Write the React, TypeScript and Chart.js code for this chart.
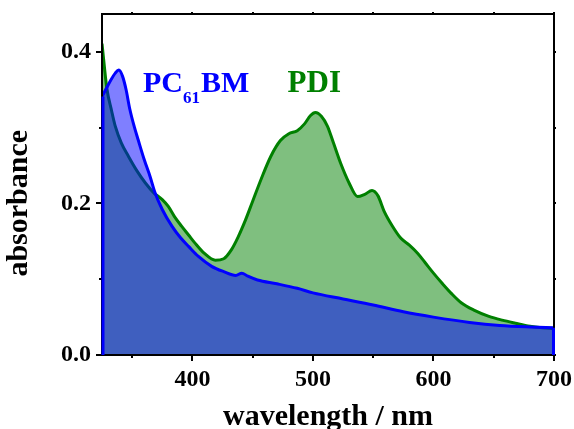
import { useEffect, useRef } from "react";
import { Chart, registerables } from "chart.js";

Chart.register(...registerables);

// PDI absorption spectrum (wavelength in nm, absorbance)
const pdiWavelengths = [
  325, 329, 333, 336, 341, 347, 354, 361, 368, 375, 380, 385, 391, 397, 402, 410, 419, 426, 432,
  438, 444, 450, 457, 465, 473, 480, 487, 493, 498, 502, 507, 512, 517, 523, 530, 537, 543, 549,
  554, 559, 566, 573, 580, 587, 593, 600, 607, 615, 623, 634, 646, 657, 668, 680, 690, 700,
];
const pdiAbsorbance = [
  0.411, 0.352, 0.322, 0.302, 0.28, 0.262, 0.243, 0.227, 0.214, 0.205, 0.196, 0.183, 0.17, 0.158,
  0.148, 0.134, 0.125, 0.127, 0.138, 0.156, 0.178, 0.203, 0.232, 0.262, 0.283, 0.292, 0.296, 0.305,
  0.316, 0.32, 0.315, 0.302, 0.28, 0.253, 0.227, 0.209, 0.212, 0.217, 0.21, 0.19, 0.17, 0.154,
  0.145, 0.134, 0.122, 0.108, 0.095, 0.081, 0.069, 0.059, 0.051, 0.046, 0.042, 0.038, 0.036, 0.035,
];

// PC61BM absorption spectrum
const pcbmWavelengths = [
  325, 328, 332, 336, 339, 342, 345, 348, 352, 355, 360, 365, 369, 375, 383, 390, 397, 405, 416,
  426, 436, 441, 446, 454, 470, 487, 500, 525, 550, 575, 600, 630, 655, 680, 700,
];
const pcbmAbsorbance = [
  0.341, 0.35, 0.362, 0.372, 0.376, 0.368, 0.35, 0.325, 0.3, 0.284, 0.258, 0.235, 0.214, 0.192,
  0.17, 0.155, 0.143, 0.13, 0.117, 0.11, 0.105, 0.108, 0.104, 0.099, 0.094, 0.088, 0.082, 0.074,
  0.066, 0.057, 0.05, 0.043, 0.039, 0.037, 0.036,
];

const xTickValues = [350, 400, 450, 500, 550, 600, 650, 700];
const xLabelValues = [400, 500, 600, 700];
const yTickValues = [0, 0.1, 0.2, 0.3, 0.4];
const yLabelValues = [0, 0.2, 0.4];

const seriesNames = { pcbmMain: "PC", pcbmSub: "61", pcbmEnd: "BM", pdi: "PDI" };
const labelAnchor = { pcbmX: 359, pdiX: 479, y: 0.347 };

const FONT = "'Liberation Serif', 'DejaVu Serif', serif";
const BLUE = "#0000ff";
const GREEN = "#008000";

const decorate = {
  id: "decorate",
  afterDraw(chart: any) {
    const { ctx, chartArea: a, scales } = chart;
    const x = scales.x;
    const y = scales.y;
    ctx.save();
    // frame
    ctx.strokeStyle = "#000";
    ctx.lineWidth = 2;
    ctx.strokeRect(a.left, a.top, a.right - a.left, a.bottom - a.top);
    // ticks
    ctx.lineWidth = 2;
    ctx.beginPath();
    for (const v of xTickValues) {
      const px = Math.round(x.getPixelForValue(v));
      const major = xLabelValues.includes(v);
      ctx.moveTo(px, a.bottom);
      ctx.lineTo(px, a.bottom + (major ? 6 : 3));
      ctx.moveTo(px, a.top);
      ctx.lineTo(px, a.top - 2);
    }
    for (const v of yTickValues) {
      const py = Math.round(y.getPixelForValue(v));
      const major = yLabelValues.includes(v);
      ctx.moveTo(a.left, py);
      ctx.lineTo(a.left - (major ? 6 : 3), py);
      ctx.moveTo(a.right, py);
      ctx.lineTo(a.right + 2, py);
    }
    ctx.stroke();
    // blue vertical edges of the PC61BM area
    ctx.strokeStyle = BLUE;
    ctx.lineWidth = 3;
    ctx.beginPath();
    const n = pcbmWavelengths.length - 1;
    const lx = x.getPixelForValue(pcbmWavelengths[0]) + 1;
    const rx = x.getPixelForValue(pcbmWavelengths[n]) - 0.5;
    ctx.moveTo(lx, y.getPixelForValue(pcbmAbsorbance[0]));
    ctx.lineTo(lx, y.getPixelForValue(0));
    ctx.moveTo(rx, y.getPixelForValue(pcbmAbsorbance[n]));
    ctx.lineTo(rx, y.getPixelForValue(0));
    ctx.stroke();
    // series labels
    const by = y.getPixelForValue(labelAnchor.y);
    ctx.textBaseline = "alphabetic";
    ctx.textAlign = "left";
    let cx = x.getPixelForValue(labelAnchor.pcbmX);
    ctx.fillStyle = BLUE;
    ctx.font = `bold 30px ${FONT}`;
    ctx.fillText(seriesNames.pcbmMain, cx, by);
    cx += ctx.measureText(seriesNames.pcbmMain).width;
    ctx.font = `bold 17px ${FONT}`;
    ctx.fillText(seriesNames.pcbmSub, cx, by + 11);
    cx += ctx.measureText(seriesNames.pcbmSub).width + 1;
    ctx.font = `bold 30px ${FONT}`;
    ctx.fillText(seriesNames.pcbmEnd, cx, by);
    ctx.fillStyle = GREEN;
    ctx.font = `bold 31px ${FONT}`;
    ctx.fillText(seriesNames.pdi, x.getPixelForValue(labelAnchor.pdiX), by);
    ctx.restore();
  },
};

export default function App() {
  const ref = useRef<HTMLCanvasElement | null>(null);
  useEffect(() => {
    if (!ref.current) return;
    Chart.defaults.font.family = FONT;
    const chart = new Chart(ref.current, {
      type: "line",
      data: {
        datasets: [
          {
            label: "PC61BM",
            data: pcbmWavelengths.map((w, i) => ({ x: w, y: pcbmAbsorbance[i] })),
            borderColor: BLUE,
            backgroundColor: "rgba(0,0,255,0.5)",
            fill: "origin",
            borderWidth: 3,
            pointRadius: 0,
            cubicInterpolationMode: "monotone",
            order: 0,
          },
          {
            label: "PDI",
            data: pdiWavelengths.map((w, i) => ({ x: w, y: pdiAbsorbance[i] })),
            borderColor: GREEN,
            backgroundColor: "rgba(0,128,0,0.5)",
            fill: "origin",
            borderWidth: 3,
            pointRadius: 0,
            cubicInterpolationMode: "monotone",
            order: 1,
          },
        ],
      },
      options: {
        animation: false,
        responsive: false,
        events: [],
        layout: { padding: { top: 14, right: 20, left: 0, bottom: 0 } },
        plugins: { legend: { display: false }, tooltip: { enabled: false } },
        scales: {
          x: {
            type: "linear",
            min: 325,
            max: 700,
            afterBuildTicks: (s: any) => {
              s.ticks = xLabelValues.map((v) => ({ value: v }));
            },
            afterFit: (s: any) => {
              s.height = 74;
              s.paddingLeft = 0;
              s.paddingRight = 0;
            },
            grid: { display: false, drawTicks: false },
            border: { display: false },
            ticks: {
              color: "#000",
              font: { size: 24, weight: "bold" },
              padding: 10,
              maxRotation: 0,
              autoSkip: false,
              callback: (v: any) => String(v),
            },
            title: {
              display: true,
              text: "wavelength / nm",
              color: "#000",
              font: { size: 30, weight: "bold", lineHeight: 1 },
              padding: { top: 0, bottom: -3 },
            },
          },
          y: {
            type: "linear",
            min: 0,
            max: 0.45,
            afterBuildTicks: (s: any) => {
              s.ticks = yLabelValues.map((v) => ({ value: v }));
            },
            afterFit: (s: any) => {
              s.width = 102;
              s.paddingTop = 0;
              s.paddingBottom = 0;
            },
            grid: { display: false, drawTicks: false },
            border: { display: false },
            ticks: {
              color: "#000",
              font: { size: 24, weight: "bold" },
              padding: 11,
              callback: (v: any) => Number(v).toFixed(1),
            },
            title: {
              display: true,
              text: "absorbance     ",
              color: "#000",
              font: { size: 30, weight: "bold", lineHeight: 1 },
              padding: { top: 4, bottom: 0 },
            },
          },
        },
      },
      plugins: [decorate],
    });
    return () => chart.destroy();
  }, []);
  return (
    <div style={{ position: "fixed", left: 0, top: 0, width: 574, height: 429, background: "#fff" }}>
      <canvas ref={ref} width={574} height={429} style={{ display: "block" }} />
    </div>
  );
}
